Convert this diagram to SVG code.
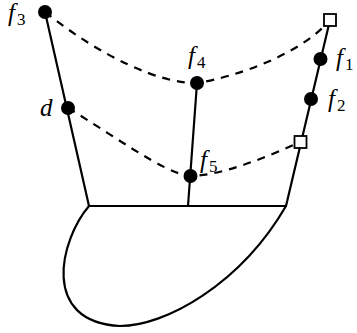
<svg xmlns="http://www.w3.org/2000/svg" width="357" height="333" viewBox="0 0 357 333">
<style>
.ln{fill:none;stroke:#000;stroke-width:2.2;stroke-linecap:round;stroke-linejoin:round}
.ds{fill:none;stroke:#000;stroke-width:2.2;stroke-dasharray:8 7}
.dot{fill:#000}
.sq{fill:#fff;stroke:#000;stroke-width:1.8}
.lb{font-family:"Liberation Serif",serif;font-size:25px;font-style:italic;fill:#000}
.sub{font-size:17px;font-style:normal}
</style>
<rect width="357" height="333" fill="#fff"/>
<g id="connectors">
<path class="ds" d="M45,12 C100,56 160,84 197,83 C235,77 300,55 330,20"/>
<path class="ds" d="M68,108 C110,133 165,174 190,176 C220,176 265,158 300,142"/>
<path class="ln" d="M45,12 L89,206"/>
<path class="ln" d="M197,83 L188,206"/>
<path class="ln" d="M330,20 L286,206"/>
<path class="ln" d="M89,206 L286,206"/>
<path class="ln" d="M89,206 C60,240 40,322 120,326 C165,326 240,285 286,206"/>
</g>
<g id="f3"><circle class="dot" cx="45" cy="12" r="7"/><text class="lb" x="8" y="21">f<tspan class="sub" dx="2" dy="4">3</tspan></text></g>
<g id="d"><circle class="dot" cx="68" cy="108" r="7"/><text class="lb" x="40" y="116">d</text></g>
<g id="f4"><circle class="dot" cx="197" cy="83" r="7"/><text class="lb" x="188" y="64">f<tspan class="sub" dx="2" dy="4">4</tspan></text></g>
<g id="f5"><circle class="dot" cx="190.5" cy="176" r="7"/><text class="lb" x="200" y="168">f<tspan class="sub" dx="2" dy="4">5</tspan></text></g>
<g id="f1"><circle class="dot" cx="320.5" cy="59" r="7"/><text class="lb" x="336" y="66">f<tspan class="sub" dx="2" dy="4">1</tspan></text></g>
<g id="f2"><circle class="dot" cx="311" cy="99" r="7"/><text class="lb" x="328" y="107">f<tspan class="sub" dx="2" dy="4">2</tspan></text></g>
<g id="sq1"><rect class="sq" x="324" y="14" width="12" height="12"/></g>
<g id="sq2"><rect class="sq" x="294.5" y="136" width="12" height="12"/></g>
</svg>
